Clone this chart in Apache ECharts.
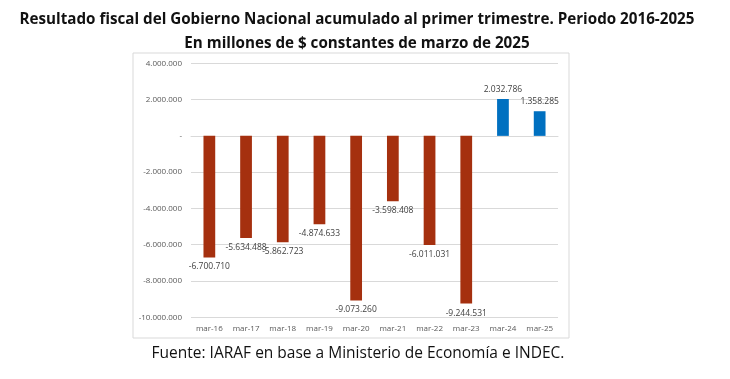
<!DOCTYPE html>
<html><head><meta charset="utf-8">
<script src="https://cdn.jsdelivr.net/npm/echarts@6/dist/echarts.min.js"></script>
<style>html,body{margin:0;padding:0;background:#fff}#c{width:730px;height:379px}</style>
</head><body><div id="c"></div>
<script>
const categories = ['mar-16','mar-17','mar-18','mar-19','mar-20','mar-21','mar-22','mar-23','mar-24','mar-25'];
const values = [-6700710,-5634488,-5862723,-4874633,-9073260,-3598408,-6011031,-9244531,2032786,1358285];
const titleText = 'Resultado fiscal del Gobierno Nacional acumulado al primer trimestre. Periodo 2016-2025\nEn millones de $ constantes de marzo de 2025';
const sourceText = 'Fuente: IARAF en base a Ministerio de Economía e INDEC.';

function fmt(v){
  if (v === 0) return '-';
  const s = Math.abs(v).toString().replace(/\B(?=(\d{3})+(?!\d))/g, '.');
  return (v < 0 ? '-' : '') + s;
}
const chart = echarts.init(document.getElementById('c'));
chart.setOption({
  animation:false,
  title:[{
    text: titleText, left: 352, top: 3, textAlign:'center',
    textStyle:{fontFamily:'Open Sans', fontWeight:'bold', fontSize:15.2, color:'#111', lineHeight:24}
  },{
    text: sourceText, left: 353, top: 341, textAlign:'center',
    textStyle:{fontFamily:'Open Sans', fontWeight:'normal', fontSize:15.5, color:'#111'}
  }],
  graphic:[{type:'rect', shape:{x:133, y:53, width:436, height:285}, style:{fill:'none', stroke:'#D9D9D9', lineWidth:1}, z:-1}],
  grid:{left:191, right:172, top:63.3, bottom:61.7, containLabel:false},
  xAxis:{type:'category', data:categories,
    axisLine:{show:true, lineStyle:{color:'#D9D9D9'}}, axisTick:{show:false},
    axisLabel:{color:'#595959', fontSize:8, fontFamily:'Open Sans', margin:7}},
  yAxis:{type:'value', min:-10000000, max:4000000, interval:2000000,
    axisLine:{show:false}, axisTick:{show:false},
    splitLine:{lineStyle:{color:'#D9D9D9'}},
    axisLabel:{color:'#595959', fontSize:8, fontFamily:'Open Sans', margin:9, formatter:fmt}},
  series:[{type:'bar', barWidth:'32%',
    data: values.map(v => ({value:v, itemStyle:{color: v<0 ? '#A5300F' : '#0070C0'},
      label:{show:true, position: v<0 ? 'bottom' : 'top', distance:5}})),
    label:{color:'#404040', fontSize:8.5, fontFamily:'Open Sans', formatter:p=>fmt(p.value)}
  }]
});
</script></body></html>
